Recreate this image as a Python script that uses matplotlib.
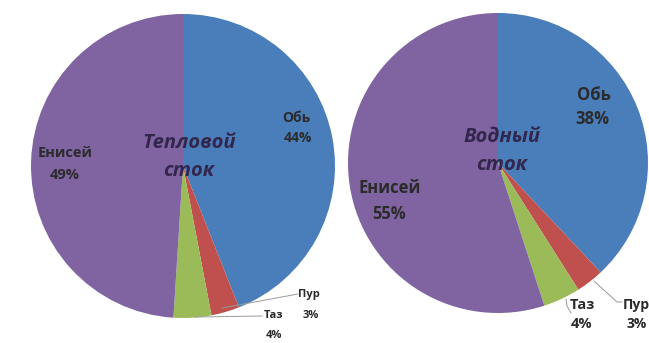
import matplotlib.pyplot as plt

# ── Data ──────────────────────────────────────────────────────────────────────
rivers = ["Обь", "Пур", "Таз", "Енисей"]
heat_share = [44, 3, 4, 49]      # тепловой сток, %
water_share = [38, 3, 4, 55]     # водный сток, %
titles = ["Тепловой\nсток", "Водный\nсток"]

COLORS = ["#4a7ebb", "#c0504d", "#9bbb59", "#8064a2"]
TEXT_DARK = "#2b2b2b"
TITLE_COLOR = "#33264d"
LEADER = "#9a9a9a"

W, H = 649, 343


def px(x, y):
    """Pixel position (origin top-left) -> axes data coords."""
    return x, H - y


def label(ax, name, val, pos_name, pos_val, size):
    kw = dict(fontfamily="Open Sans", fontweight="bold", color=TEXT_DARK,
              ha="center", va="center", fontsize=size)
    ax.text(*px(*pos_name), name, **kw)
    ax.text(*px(*pos_val), f"{val}%", **kw)


def title(ax, text, center, size):
    top, bottom = text.split("\n")
    kw = dict(fontsize=size, fontstyle="italic", fontweight="bold",
              fontfamily="Open Sans", color=TITLE_COLOR, ha="center", va="center")
    ax.text(*px(center[0], center[1] - 14), top, **kw)
    ax.text(*px(center[0], center[1] + 14), bottom, **kw)


fig = plt.figure(figsize=(W / 100, H / 100), dpi=100)
fig.patch.set_facecolor("white")
ax = fig.add_axes([0, 0, 1, 1])

# ── Pies ──────────────────────────────────────────────────────────────────────
pies = [
    dict(values=heat_share, center=px(183, 166), radius=152),
    dict(values=water_share, center=px(498, 163), radius=150),
]
for p in pies:
    ax.pie(p["values"], colors=COLORS, startangle=90, counterclock=False,
           center=p["center"], radius=p["radius"], frame=True,
           wedgeprops=dict(linewidth=0))

# ── Left pie: тепловой сток ──────────────────────────────────────────────────
# (name position, value position, font size)
left_pos = {
    "Обь": ((296, 118), (298, 138), 10),
    "Пур": ((309, 294), (311, 315), 8),
    "Таз": ((274, 315), (274, 335), 8),
    "Енисей": ((65, 153), (65, 175), 10.5),
}
for name, val in zip(rivers, heat_share):
    label(ax, name, val, *left_pos[name])

title(ax, titles[0], (189, 157), 14.5)

ax.plot(*zip(px(222, 308), px(298, 294)), color=LEADER, lw=0.7)
ax.plot(*zip(px(195, 317), px(262, 316)), color=LEADER, lw=0.7)

# ── Right pie: водный сток ───────────────────────────────────────────────────
right_pos = {
    "Обь": ((594, 95), (592, 119), 12),
    "Пур": ((636, 305), (637, 324), 10),
    "Таз": ((582, 305), (582, 324), 10.5),
    "Енисей": ((390, 188), (389, 214), 12),
}
for name, val in zip(rivers, water_share):
    label(ax, name, val, *right_pos[name])

title(ax, titles[1], (502, 151), 14.5)

ax.plot(*zip(px(566, 299), px(567, 306), px(571, 313)), color=LEADER, lw=0.7)
ax.plot(*zip(px(594, 281), px(617, 302), px(622, 302)), color=LEADER, lw=0.7)

ax.set_xlim(0, W)
ax.set_ylim(0, H)
ax.set_aspect("equal")
ax.axis("off")

fig.savefig("out.png", dpi=100, facecolor="white")
